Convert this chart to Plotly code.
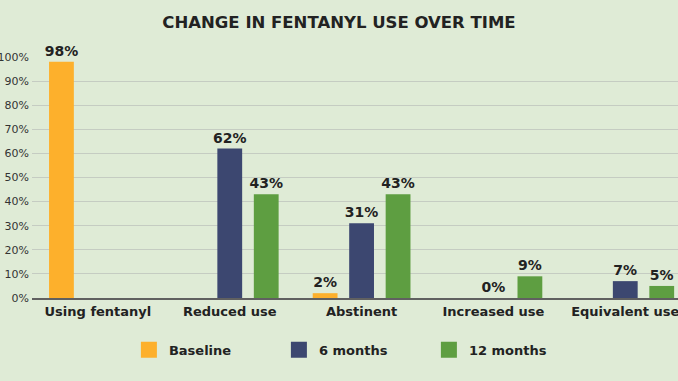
import plotly.graph_objects as go

categories = ["Using fentanyl", "Reduced use", "Abstinent", "Increased use", "Equivalent use"]
baseline = [98, None, 2, None, None]
six_months = [None, 62, 31, 0, 7]
twelve_months = [None, 43, 43, 9, 5]
series_names = ["Baseline", "6 months", "12 months"]
colors = ["#FDB02C", "#3C4770", "#5E9E41"]
tick_vals = [0, 10, 20, 30, 40, 50, 60, 70, 80, 90, 100]
tick_text = [f"{v}%" for v in tick_vals]

BG = "#DFEBD6"
fig = go.Figure()
for name, vals, col in zip(series_names, [baseline, six_months, twelve_months], colors):
    fig.add_trace(go.Bar(
        x=categories, y=vals, name=name, showlegend=False,
        marker=dict(color=col, line=dict(width=0)),
        text=[None if v is None else f"{v}%" for v in vals],
        textposition="outside", constraintext="none",
        textfont=dict(family="DejaVu Sans", size=14, color="#222222", weight="bold"),
        cliponaxis=False, hoverinfo="skip",
    ))
# legend entries (larger square keys)
for name, col in zip(series_names, colors):
    fig.add_trace(go.Scatter(
        x=[None], y=[None], mode="markers", name=name,
        marker=dict(symbol="square", size=16, color=col),
    ))

fig.update_layout(
    width=678, height=381,
    paper_bgcolor=BG, plot_bgcolor=BG,
    margin=dict(l=32, r=0, t=57, b=83),
    barmode="group", bargap=0.17, bargroupgap=0.32,
    title=dict(text="<b>CHANGE IN FENTANYL USE OVER TIME</b>", x=0.5, xref="container", xanchor="center",
               y=1 - 22 / 381, yanchor="middle",
               font=dict(family="DejaVu Sans", size=16.5, color="#222222")),
    showlegend=True,
    legend=dict(orientation="h", x=0.15, xanchor="left", y=-0.215, yanchor="middle",
                font=dict(family="DejaVu Sans", size=13, color="#222222", weight="bold"),
                itemwidth=30, entrywidth=105, entrywidthmode="pixels", bgcolor="rgba(0,0,0,0)"),
    xaxis=dict(range=[-0.5, 4.4], showgrid=False, showline=True, linecolor="#606060", linewidth=2,
               ticks="", tickfont=dict(family="DejaVu Sans", size=13, color="#222222", weight="bold"),
               zeroline=False, automargin=False),
    yaxis=dict(range=[0, 100], tickvals=tick_vals, ticktext=tick_text, showgrid=True,
               gridcolor="#C5CCC2", gridwidth=1, zeroline=False, showline=False,
               tickfont=dict(family="DejaVu Sans", size=11, color="#333333"), ticklen=0,
               ticklabelstandoff=2, automargin=False),
)

fig.write_html("out.html", config={"displayModeBar": False},
               post_script="document.body.style.margin='0';document.body.style.overflow='hidden';")
